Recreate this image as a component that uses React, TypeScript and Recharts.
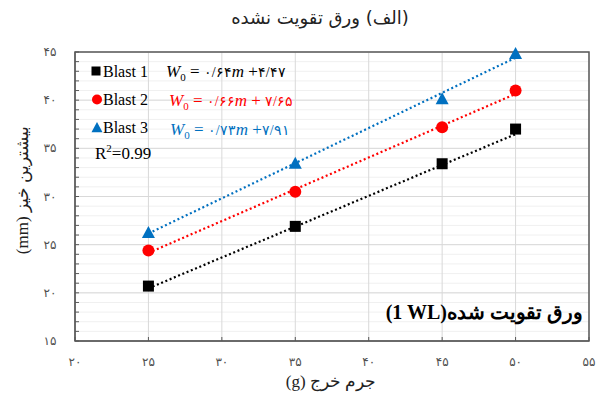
import { ScatterChart, Scatter, XAxis, YAxis, CartesianGrid, ReferenceLine, ReferenceArea } from 'recharts';

// charge mass (g)
const MASS = [25, 35, 45, 50];
// max deflection (mm) per blast
const BLAST_1 = [20.7, 26.9, 33.4, 37.0];
const BLAST_2 = [24.4, 30.5, 37.2, 41.0];
const BLAST_3 = [26.2, 33.4, 40.1, 44.8];
const SERIES_NAMES = ['Blast 1', 'Blast 2', 'Blast 3'];
const COLORS = ['#000000', '#ff0000', '#0070c0'];
// trendline coefficients as printed on the chart
const SLOPES = [0.64, 0.66, 0.73];
const INTERCEPTS = [4.47, 7.65, 7.91];
const R2 = '0.99';
const X_TICKS = [20, 25, 30, 35, 40, 45, 50, 55];
const Y_TICKS = [15, 20, 25, 30, 35, 40, 45];
const Y_MINOR = Array.from({ length: 31 }, (_, i) => 15 + i);

const TITLE = '(الف) ورق تقویت نشده';
const X_TITLE = 'جرم خرج (g)';
const Y_TITLE = 'بیشترین خیز (mm)';
const NOTE = '(1 WL)ورق تقویت شده';

const fa = (v: number | string) => String(v).replace(/\d/g, d => '۰۱۲۳۴۵۶۷۸۹'[+d]);
const faDec = (v: number) => fa(String(v).replace('.', '/'));
const rtl = (s: string) => '\u202B' + s + '\u202C';

const SERIF = "'Liberation Serif', 'DejaVu Serif', serif";
const SANS = "'DejaVu Sans', sans-serif";

const toPoints = (ys: number[]) => MASS.map((m, i) => ({ x: m, y: ys[i] }));

const SquareMark = ({ cx, cy, side = 11 }: any) => (
  <rect x={cx - side / 2} y={cy - side / 2} width={side} height={side} fill={COLORS[0]} />
);
const DotMark = ({ cx, cy, rad = 6 }: any) => <circle cx={cx} cy={cy} r={rad} fill={COLORS[1]} />;
const TriMark = ({ cx, cy, k = 1 }: any) => (
  <path d={`M${cx},${cy - 7 * k} L${cx + 6.5 * k},${cy + 5 * k} L${cx - 6.5 * k},${cy + 5 * k}Z`} fill={COLORS[2]} />
);

const YTick = ({ x, y, payload }: any) => {
  const major = payload.value % 5 === 0;
  return (
    <g>
      <line x1={x} x2={x + 4} y1={y} y2={y} stroke="#595959" strokeWidth={1} />
      {major && (
        <text x={x - 25} y={y + 4} textAnchor="middle" fontSize={12} fill="#505050" fontFamily={SANS}>
          {fa(payload.value)}
        </text>
      )}
    </g>
  );
};

const XTick = ({ x, y, payload }: any) => (
  <g>
    <line x1={x} x2={x} y1={y} y2={y - 4} stroke="#595959" strokeWidth={1} />
    <text x={x} y={y + 25} textAnchor="middle" fontSize={12} fill="#505050" fontFamily={SANS}>
      {fa(payload.value)}
    </text>
  </g>
);

function Equation({ x, y, i, spaced }: { x: number; y: number; i: number; spaced?: boolean }) {
  return (
    <text x={x} y={y} fill={COLORS[i]} fontFamily={SERIF} fontSize={17} direction="ltr">
      <tspan fontStyle="italic">W</tspan>
      <tspan fontSize={11} dy={4}>0</tspan>
      <tspan dy={-4}>{' = '}</tspan>
      <tspan fontSize={14}>{faDec(SLOPES[i])}</tspan>
      <tspan fontStyle="italic">m</tspan>
      <tspan>{spaced ? ' + ' : ' +'}</tspan>
      <tspan fontSize={14}>{faDec(INTERCEPTS[i])}</tspan>
    </text>
  );
}

export default function App() {
  const series = [BLAST_1, BLAST_2, BLAST_3];
  const shapes = [SquareMark, DotMark, TriMark];
  return (
    <div style={{ position: 'absolute', left: 0, top: 0, width: 601, height: 396, background: '#fff' }}>
      <ScatterChart width={601} height={396} margin={{ top: 52, right: 12, bottom: 25, left: 30 }}>
        <CartesianGrid horizontalValues={Y_MINOR} vertical={false} stroke="#f0f0f0" />
        <CartesianGrid horizontalValues={Y_TICKS} verticalValues={X_TICKS} stroke="#d9d9d9" />
        <XAxis
          type="number"
          dataKey="x"
          domain={[20, 55]}
          ticks={X_TICKS}
          height={30}
          tickSize={0}
          tickMargin={0}
          axisLine={{ stroke: '#595959' }}
          tick={<XTick />}
        />
        <YAxis
          type="number"
          dataKey="y"
          domain={[15, 45]}
          ticks={Y_MINOR}
          interval={0}
          width={45}
          tickSize={0}
          tickMargin={0}
          axisLine={{ stroke: '#595959' }}
          tick={<YTick />}
        />
        {SLOPES.map((s, i) => (
          <ReferenceLine
            key={`trend-${i}`}
            segment={[
              { x: MASS[0], y: s * MASS[0] + INTERCEPTS[i] },
              { x: MASS[MASS.length - 1], y: s * MASS[MASS.length - 1] + INTERCEPTS[i] },
            ]}
            stroke={COLORS[i]}
            strokeWidth={2.2}
            strokeDasharray="2 2.6"
            ifOverflow="visible"
          />
        ))}
        {series.map((ys, i) => (
          <Scatter
            key={SERIES_NAMES[i]}
            name={SERIES_NAMES[i]}
            data={toPoints(ys)}
            shape={shapes[i]}
            isAnimationActive={false}
          />
        ))}
        <ReferenceArea x1={20} x2={55} y1={15} y2={45} fill="none" stroke="#595959" strokeWidth={1.5} ifOverflow="visible" />
      </ScatterChart>

      <svg width={601} height={396} style={{ position: 'absolute', left: 0, top: 0, pointerEvents: 'none' }}>
        <text x={320} y={24} textAnchor="middle" fontSize={18} fill="#222" fontFamily={SANS}>
          {rtl(TITLE)}
        </text>
        <text
          x={22}
          y={190}
          textAnchor="middle"
          dominantBaseline="central"
          transform="rotate(-90 22 190)"
          fontSize={17}
          fill="#222"
          fontFamily={SERIF}
        >
          {rtl(Y_TITLE)}
        </text>
        <text x={331} y={387} textAnchor="middle" fontSize={17} fill="#222" fontFamily={SERIF}>
          {rtl(X_TITLE)}
        </text>

        {/* legend */}
        <SquareMark cx={96} cy={71} side={9} />
        <DotMark cx={97} cy={99.5} rad={5} />
        <TriMark cx={97} cy={128} k={0.85} />
        {SERIES_NAMES.map((n, i) => (
          <text key={n} x={103} y={76.5 + i * 28} fontSize={16} fill="#000" fontFamily={SERIF}>
            {n}
          </text>
        ))}
        <text x={95} y={159} fontSize={17} fill="#000" fontFamily={SERIF}>
          R<tspan fontSize={11} dy={-7}>2</tspan>
          <tspan dy={7}>={R2}</tspan>
        </text>

        <Equation x={166} y={77} i={0} />
        <Equation x={169} y={106} i={1} spaced />
        <Equation x={170} y={135} i={2} />

        <text x={583} y={319} textAnchor="end" fontSize={20} fontWeight="bold" fill="#000" fontFamily={SERIF} direction="ltr">
          {NOTE}
        </text>
      </svg>
    </div>
  );
}
